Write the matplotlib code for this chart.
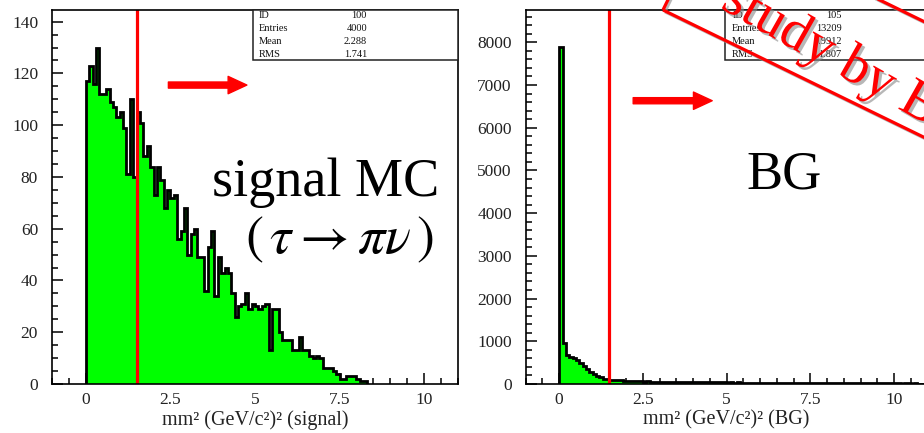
import numpy as np
import matplotlib
matplotlib.use("Agg")
import matplotlib.pyplot as plt
from matplotlib.ticker import MultipleLocator
from matplotlib.patches import Polygon, Rectangle
import matplotlib.patheffects as pe

plt.rcParams['font.family'] = ['Liberation Serif', 'DejaVu Serif']
plt.rcParams['mathtext.fontset'] = 'stix'

# ---- data ---------------------------------------------------------------
BIN_WIDTH = 0.1          # GeV^2/c^4 per bin, first bin starts at 0
x_range = (-1.0, 11.0)
cut_value = 1.5

signal_counts = [
    117, 123, 116, 130, 112, 112, 114, 109, 107, 103,
    105, 99, 81, 110, 80, 105, 101, 88, 92, 84,
    73, 84, 79, 68, 75, 72, 73, 56, 59, 68,
    50, 58, 60, 49, 49, 36, 53, 59, 34, 49,
    43, 45, 43, 35, 26, 30, 31, 35, 29, 31,
    30, 29, 30, 31, 13, 29, 29, 20, 17, 17,
    17, 13, 13, 18, 13, 13, 11, 10, 11, 10,
    6, 6, 6, 5, 4, 2, 2, 3, 3, 3,
    2, 1, 1,
]

bg_counts = [
    7880, 960, 680, 630, 620, 560, 480, 420, 345, 290,
    235, 185, 155, 125, 115, 100, 95, 88, 90, 80,
    78, 72, 66, 63, 61, 58, 64, 55, 57, 51,
    56, 49, 53, 50, 46, 52, 47, 44, 49, 43,
    45, 41, 47, 39, 42, 40, 37, 43, 36, 38,
    35, 39, 33, 36, 31, 34, 30, 33, 29, 31,
    28, 30, 26, 29, 25, 27, 24, 26, 23, 27,
    22, 24, 21, 23, 22, 20, 24, 19, 21, 18,
    20, 17, 19, 18, 16, 19, 15, 17, 16, 18,
    14, 16, 15, 13, 17, 14, 15, 12, 14, 13,
    12, 14, 11, 13, 12, 10, 12, 11, 9, 10,
]

signal_stats = [("ID", "100"), ("Entries", "4000"), ("Mean", "2.288"), ("RMS", "1.741")]
bg_stats = [("ID", "105"), ("Entries", "13209"), ("Mean", "0.9912"), ("RMS", "1.807")]

x_ticks = [0, 2.5, 5, 7.5, 10]
x_ticklabels = ["0", "2.5", "5", "7.5", "10"]
signal_xlabel = "mm\u00b2 (GeV/c\u00b2)\u00b2 (signal)"
bg_xlabel = "mm\u00b2 (GeV/c\u00b2)\u00b2 (BG)"

GREEN = "#00ff00"
RED = "#ff0000"

# ---- figure -------------------------------------------------------------
W, H = 924, 433
fig = plt.figure(figsize=(W / 100, H / 100), dpi=100)
fig.patch.set_facecolor("white")


def px_box(x0, x1, y_top, y_bot):
    return [x0 / W, 1 - y_bot / H, (x1 - x0) / W, (y_bot - y_top) / H]


ax_sig = fig.add_axes(px_box(52, 458, 10, 384))
ax_bg = fig.add_axes(px_box(525.7, 927.5, 10, 384))


def draw_panel(ax, counts, ymax, ymajor, yminor, xlabel, stats,
               box_left, label_x, value_x, arrow):
    edges = np.arange(len(counts) + 1) * BIN_WIDTH
    ax.stairs(counts, edges, fill=True, color=GREEN, lw=0, zorder=2)
    ax.stairs(counts, edges, baseline=0, color="black", lw=2.0, zorder=3)
    ax.axvline(cut_value, color=RED, lw=2.3, zorder=4)

    ax.set_xlim(*x_range)
    ax.set_ylim(0, ymax)
    ax.set_xticks(x_ticks)
    ax.set_xticklabels(x_ticklabels)
    ax.xaxis.set_minor_locator(MultipleLocator(0.5))
    ax.yaxis.set_major_locator(MultipleLocator(ymajor))
    ax.yaxis.set_minor_locator(MultipleLocator(yminor))
    ax.tick_params(which="both", direction="in", top=False, right=False,
                   labelsize=12.5, width=1.1, colors="black")
    ax.tick_params(which="major", length=8)
    ax.tick_params(which="minor", length=4)
    ax.tick_params(axis="y", pad=10)
    ax.tick_params(axis="x", pad=5.5)
    for sp in ax.spines.values():
        sp.set_linewidth(1.2)
        sp.set_zorder(5)
    for lab in ax.get_xticklabels() + ax.get_yticklabels():
        lab.set_color("#222222")

    ax.set_xlabel(xlabel, fontsize=14.5, color="#222222")
    ax.xaxis.set_label_coords(0.5, -0.096)
    ax.xaxis.label.set_verticalalignment("center")

    # statistics box in the upper right corner of the frame
    y_bot = 0.8655
    ax.add_patch(Rectangle((box_left, y_bot), 1.0 - box_left, 1 - y_bot,
                           transform=ax.transAxes, facecolor="white",
                           edgecolor="#222222", lw=1.1, zorder=6,
                           clip_on=False))
    rows_y = [0.9848, 0.9492, 0.9152, 0.8816]
    for (name, val), yy in zip(stats, rows_y):
        ax.text(label_x, yy, name, transform=ax.transAxes, fontsize=7.5,
                ha="left", va="center", zorder=7, color="#111111")
        ax.text(value_x, yy, val, transform=ax.transAxes, fontsize=7.5,
                ha="right", va="center", zorder=7, color="#111111")

    # selection arrow
    (xa, xb, ya) = arrow
    ax.annotate("", xy=(xb, ya), xytext=(xa, ya),
                arrowprops=dict(facecolor=RED, edgecolor=RED, width=4.4,
                                headwidth=12.5, headlength=13.5, shrink=0),
                zorder=6)


draw_panel(ax_sig, signal_counts, 144.5, 20, 5, signal_xlabel, signal_stats,
           0.494, 0.51, 0.7758, (2.44, 4.76, 115.5))
draw_panel(ax_bg, bg_counts, 8757, 1000, 200, bg_xlabel, bg_stats,
           0.496, 0.514, 0.7865, (2.21, 4.57, 6633))

# panel captions
ax_sig.text(0.675, 0.503, "signal MC", transform=ax_sig.transAxes,
            fontsize=39, ha="center", va="baseline", zorder=6)
ax_sig.text(0.708, 0.350, r"$(\,\tau \rightarrow \pi\nu\,)$",
            transform=ax_sig.transAxes, fontsize=39, ha="center",
            va="baseline", zorder=6)
ax_bg.text(0.643, 0.523, "BG", transform=ax_bg.transAxes,
           fontsize=39, ha="center", va="baseline", zorder=6)

# rotated stamp in the upper right corner (pixel coordinates, y downwards)
def to_fig(p):
    return (p[0] / W, 1 - p[1] / H)

box_ang = np.deg2rad(26.0)
u = np.array([np.cos(box_ang), np.sin(box_ang)])
v = np.array([np.sin(box_ang), -np.cos(box_ang)])
p0 = np.array([663.0, 10.0])
length, height = 600.0, 104.0
corners = [p0, p0 + length * u, p0 + length * u + height * v, p0 + height * v]
shadow_corners = [c + np.array([2.0, 2.0]) for c in corners]
fig.patches.append(Polygon([to_fig(c) for c in shadow_corners], closed=True,
                           fill=False, edgecolor="#9a9a9a", lw=2.0, alpha=0.7,
                           transform=fig.transFigure, zorder=19))
fig.patches.append(Polygon([to_fig(c) for c in corners], closed=True,
                           fill=False, edgecolor=RED, lw=2.3,
                           transform=fig.transFigure, zorder=20))

text_ang = 29.5
start = (719.5, 7.6)
fig.text(*to_fig(start), "study by B", color=RED,
         fontsize=40, rotation=-text_ang, rotation_mode="anchor",
         ha="left", va="baseline", zorder=21,
         path_effects=[pe.withSimplePatchShadow(offset=(2, -2),
                                                shadow_rgbFace="#888888",
                                                alpha=0.6)])

fig.savefig("out.png", dpi=100)
